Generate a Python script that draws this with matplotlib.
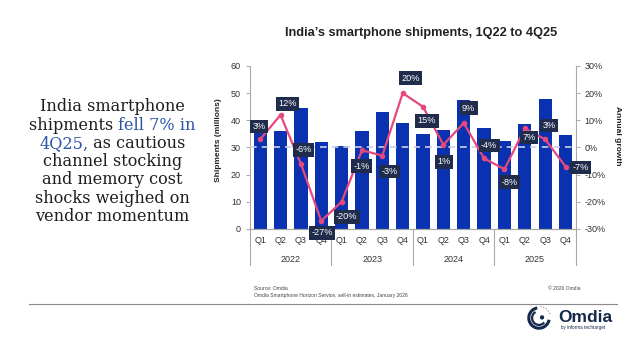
import matplotlib
matplotlib.use("Agg")
import matplotlib.pyplot as plt
from matplotlib.patches import Arc, Circle
import numpy as np

quarters = ["Q1", "Q2", "Q3", "Q4"] * 4
years = ["2022", "2023", "2024", "2025"]
shipments = [38, 36, 44.5, 32, 30.5, 36, 43, 39, 35, 36.5, 47.5, 37, 32.5, 38.5, 48, 34.5]
growth = [3, 12, -6, -27, -20, -1, -3, 20, 15, 1, 9, -4, -8, 7, 3, -7]
growth_labels = ["3%", "12%", "-6%", "-27%", "-20%", "-1%", "-3%", "20%",
                 "15%", "1%", "9%", "-4%", "-8%", "7%", "3%", "-7%"]

# label box offsets from the point, in pixels
label_offsets = [(-1, 13), (7, 11), (3, 14), (1, -12), (5, -15), (0, -16), (7, -16), (8, 15),
                 (4, -14), (1, -17), (5, 15), (5, 13), (5, -13), (4, -9), (4, 14), (15, -1)]

bar_color = "#0a31b0"
line_color = "#e5487c"
box_color = "#1f2c4c"
grid_gray = "#a9a9a9"
text_dark = "#333333"

W, H = 640, 356
fig = plt.figure(figsize=(6.4, 3.56), dpi=100)
fig.patch.set_facecolor("white")

def px(x, y):
    return x / W, 1 - y / H

ax_l, ax_r, ax_t, ax_b = 250, 575.7, 66, 229
ax = fig.add_axes([ax_l / W, 1 - ax_b / H, (ax_r - ax_l) / W, (ax_b - ax_t) / H])
ax2 = ax.twinx()

x = np.arange(len(shipments))
ax.bar(x, shipments, width=0.65, color=bar_color, zorder=2)
ax.set_xlim(-0.5, len(shipments) - 0.5)
ax.set_ylim(0, 60)
ax.set_yticks(range(0, 61, 10))
ax.set_xticks(x)
ax.set_xticklabels(quarters)

ax2.set_ylim(-30, 30)
ax2.set_yticks(range(-30, 31, 10))
ax2.set_yticklabels([f"{v}%" for v in range(-30, 31, 10)])
ax2.axhline(0, color="#c9d1e3", lw=1.2, ls=(0, (4, 3)), zorder=3)
ax2.plot(x, growth, color=line_color, lw=1.6, marker="o", ms=3, zorder=4)

for i, (g, lab) in enumerate(zip(growth, growth_labels)):
    ax2.annotate(lab, (x[i], g), xytext=label_offsets[i], textcoords="offset pixels",
                 ha="center", va="center", color="white", fontsize=6.6,
                 family="Liberation Sans", zorder=5,
                 bbox=dict(boxstyle="square,pad=0.25", fc=box_color, ec="none"))

for a in (ax, ax2):
    for s in a.spines.values():
        s.set_color(grid_gray)
        s.set_linewidth(0.8)
    a.spines["top"].set_visible(False)
    a.tick_params(axis="both", colors=grid_gray, labelcolor=text_dark, labelsize=6.5,
                  length=3, width=0.7)
ax.tick_params(axis="x", length=0, pad=5)
ax2.spines["left"].set_visible(False)
ax.spines["right"].set_visible(False)
for lab in ax.get_xticklabels() + ax.get_yticklabels() + ax2.get_yticklabels():
    lab.set_family("Liberation Sans")

# year separators below the axis
trans = ax.get_xaxis_transform()
for b in [-0.5, 3.5, 7.5, 11.5, 15.5]:
    ax.plot([b, b], [0, -0.22], transform=trans, color=grid_gray, lw=0.8, clip_on=False)
for k, yr in enumerate(years):
    ax.text(4 * k + 1.5, -0.185, yr, transform=trans, ha="center", va="center",
            fontsize=6.5, color=text_dark, family="Liberation Sans")

fig.text(*px(219, 140), "Shipments (millions)", rotation=90, ha="center", va="center",
         fontsize=6, fontweight="bold", color="#222222", family="Liberation Sans")
fig.text(*px(617, 136), "Annual growth", rotation=-90, ha="center", va="center",
         fontsize=6, fontweight="bold", color="#222222", family="Liberation Sans")

fig.text(*px(421, 33), "India\u2019s smartphone shipments, 1Q22 to 4Q25", ha="center",
         va="center", fontsize=9.2, fontweight="bold", color="#222222", family="Liberation Sans")

# left headline with highlighted words
lines = [
    [("India smartphone", "#1e1e1e")],
    [("shipments ", "#1e1e1e"), ("fell 7% in", "#2c55a6")],
    [("4Q25,", "#2c55a6"), (" as cautious", "#1e1e1e")],
    [("channel stocking", "#1e1e1e")],
    [("and memory cost", "#1e1e1e")],
    [("shocks weighed on", "#1e1e1e")],
    [("vendor momentum", "#1e1e1e")],
]
renderer = fig.canvas.get_renderer()
cx = 112.5
for li, parts in enumerate(lines):
    yy = 106.7 + li * 18.3
    texts = []
    for s, c in parts:
        t = fig.text(0, 1 - yy / H, s, ha="left", va="center", fontsize=11.6,
                     color=c, family="DejaVu Serif")
        texts.append(t)
    widths = [t.get_window_extent(renderer).width for t in texts]
    start = cx - sum(widths) / 2
    for t, w in zip(texts, widths):
        t.set_x(start / W)
        start += w

# footer
fig.text(*px(254, 289), "Source: Omdia", fontsize=3.6, color="#444444", va="center",
         family="Liberation Sans")
fig.text(*px(254, 296), "Omdia Smartphone Horizon Service, sell-in estimates, January 2026",
         fontsize=3.6, color="#444444", va="center", family="Liberation Sans")
fig.text(*px(581, 289), "\u00a9 2026 Omdia", fontsize=3.6, color="#444444", va="center",
         ha="right", family="Liberation Sans")
fig.add_artist(plt.Line2D([29 / W, 617 / W], [1 - 303.5 / H] * 2, color="#8a8a8a", lw=0.8))

# logo
lax = fig.add_axes([527 / W, 1 - 330 / H, 24 / W, 24 / H])
lax.set_xlim(-1, 1)
lax.set_ylim(-1, 1)
lax.set_aspect("equal")
lax.axis("off")
navy = "#14294b"
lax.add_patch(Arc((0, 0), 1.7, 1.7, theta1=100, theta2=350, color=navy, lw=2.2))
lax.add_patch(Arc((0, 0), 1.15, 1.15, theta1=120, theta2=320, color=navy, lw=1.6))
lax.add_patch(Circle((0.25, 0.05), 0.12, color=navy))
lax.add_patch(Arc((0, 0), 1.95, 1.95, theta1=20, theta2=90, color="#7a8aa5", lw=0.8, ls=":"))
fig.text(*px(585, 318), "Omdia", ha="center", va="center", fontsize=12.5,
         fontweight="bold", color=navy, family="Liberation Sans")
fig.text(*px(583, 327), "by informa techtarget", ha="center", va="center", fontsize=3.3,
         color=navy, family="Liberation Sans")

fig.savefig("out.png", dpi=100, facecolor="white")
